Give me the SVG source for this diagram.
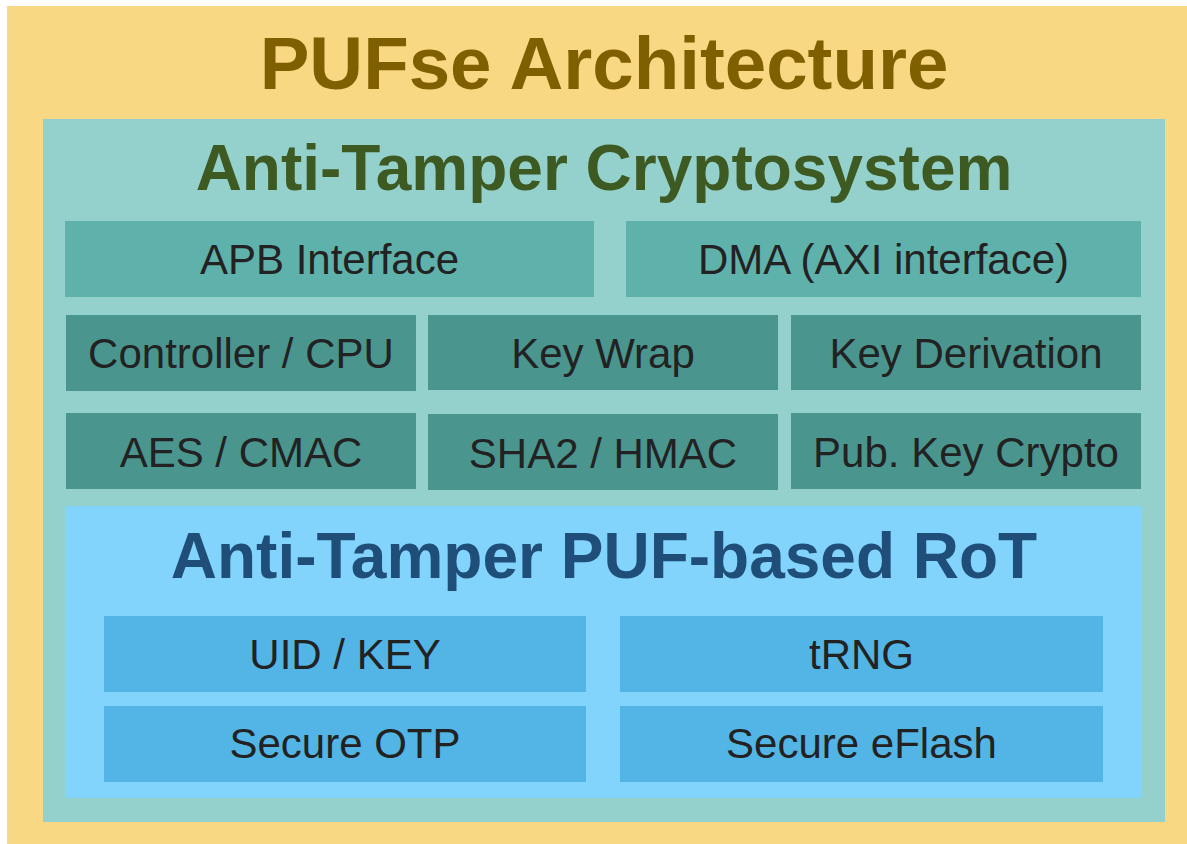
<svg xmlns="http://www.w3.org/2000/svg" width="1187" height="844" viewBox="0 0 1187 844">
<style>
.t{font-family:"Liberation Sans",Arial,sans-serif;text-anchor:middle}
.h{font-weight:bold}
.b{font-size:42px;fill:#222222}
.apb{fill:#5FB1AB}
.mod{fill:#4A968F}
.rot{fill:#52B5E5}
</style>
<rect width="1187" height="844" fill="#ffffff"/>
<g id="pufse">
<rect x="7" y="6" width="1180" height="838" fill="#F9D884"/>
<text class="t h" x="604" y="89" font-size="74.5" fill="#7F6000">PUFse Architecture</text>
</g>
<g id="cryptosystem">
<rect x="43" y="119" width="1122" height="703" fill="#94D1CC"/>
<text class="t h" x="604" y="190" font-size="64" fill="#3D5A22">Anti-Tamper Cryptosystem</text>
</g>
<g id="apb"><rect class="apb" x="65" y="221" width="529" height="76"/><text class="t b" x="329.5" y="274">APB Interface</text></g>
<g id="dma"><rect class="apb" x="626" y="221" width="515" height="76"/><text class="t b" x="883.5" y="274">DMA (AXI interface)</text></g>
<g id="controller"><rect class="mod" x="66" y="315" width="350" height="76"/><text class="t b" x="241" y="368">Controller / CPU</text></g>
<g id="keywrap"><rect class="mod" x="428" y="315" width="350" height="75"/><text class="t b" x="603" y="368">Key Wrap</text></g>
<g id="keyderivation"><rect class="mod" x="791" y="315" width="350" height="75"/><text class="t b" x="966" y="368">Key Derivation</text></g>
<g id="aes"><rect class="mod" x="66" y="413" width="350" height="76"/><text class="t b" x="241" y="467">AES / CMAC</text></g>
<g id="sha"><rect class="mod" x="428" y="414" width="350" height="76"/><text class="t b" x="603" y="468">SHA2 / HMAC</text></g>
<g id="pubkey"><rect class="mod" x="791" y="413" width="350" height="76"/><text class="t b" x="966" y="467">Pub. Key Crypto</text></g>
<g id="rot">
<rect x="65" y="506" width="1076" height="292" fill="#83D4FC"/>
<text class="t h" x="604" y="578" font-size="64" fill="#1F4E79">Anti-Tamper PUF-based RoT</text>
</g>
<g id="uid"><rect class="rot" x="104" y="616" width="482" height="76"/><text class="t b" x="345" y="669">UID / KEY</text></g>
<g id="trng"><rect class="rot" x="620" y="616" width="483" height="76"/><text class="t b" x="861.5" y="669">tRNG</text></g>
<g id="otp"><rect class="rot" x="104" y="706" width="482" height="76"/><text class="t b" x="345" y="758">Secure OTP</text></g>
<g id="eflash"><rect class="rot" x="620" y="706" width="483" height="76"/><text class="t b" x="861.5" y="758">Secure eFlash</text></g>
<g id="connectors"></g>
</svg>
